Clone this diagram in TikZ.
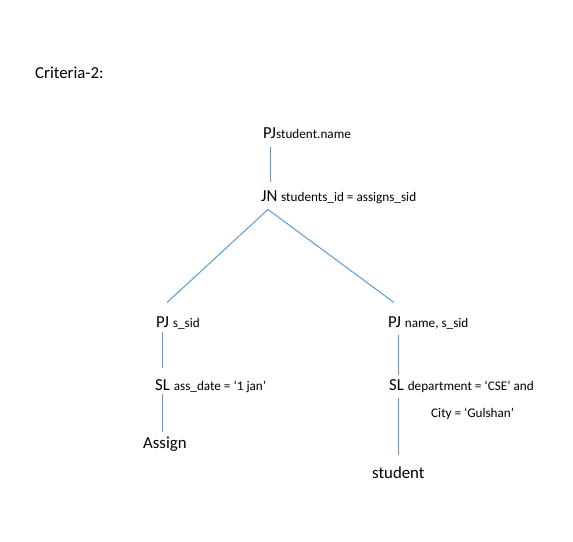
\documentclass[tikz,border=0pt]{standalone}
\usepackage{fontspec}
\setmainfont{Carlito}
\definecolor{linkblue}{RGB}{91,155,213}
\newcommand{\attr}[1]{{\fontsize{13.2}{15}\selectfont #1}}
\begin{document}
\begin{tikzpicture}[x=1pt, y=-1pt,
    op/.style = {anchor=base west, inner sep=0pt, font=\fontsize{16.8}{19}\selectfont},
    link/.style = {draw=linkblue, line width=1pt}]
    \useasboundingbox (0,0) rectangle (573,541);
    \node [op] (crit) at (35,78) {Criteria-2:};
    % root
    \node [op] (pj) at (263,138) {PJ\attr{student.name}};
    \node [op] (jn) at (261,201) {JN \attr{students\_id = assigns\_sid}};
    % left branch
    \node [op] (pjl) at (156,327) {PJ \attr{s\_sid}};
    \node [op] (sll) at (155,390) {SL \attr{ass\_date = ‘1 jan’}};
    \node [op] (assign) at (143,448) {Assign};
    % right branch
    \node [op] (pjr) at (388,327) {PJ \attr{name, s\_sid}};
    \node [op] (slr) at (389,390) {SL \attr{department = ‘CSE’ and}};
    \node [op] (city) at (431,417) {\attr{City = ‘Gulshan’}};
    \node [op] (student) at (372,478) {student};
    \draw [link] ([xshift=7pt,yshift=-9pt]pj.south west) -- ([xshift=9pt,yshift=8pt]jn.north west);
    \draw [link] ([xshift=7pt,yshift=-6pt]jn.south west) -- ([xshift=11pt,yshift=13.5pt]pjl.north west);
    \draw [link] ([xshift=7pt,yshift=-6pt]jn.south west) -- ([xshift=6pt,yshift=13.5pt]pjr.north west);
    \draw [link] ([xshift=6pt,yshift=-3pt]pjl.south west) -- ([xshift=7pt,yshift=11pt]sll.north west);
    \draw [link] ([xshift=7pt,yshift=-2pt]sll.south west) -- ([xshift=19pt,yshift=4pt]assign.north west);
    \draw [link] ([xshift=10pt,yshift=-6pt]pjr.south west) -- ([xshift=9pt,yshift=4pt]slr.north west);
    \draw [link] ([xshift=9pt,yshift=-6pt]slr.south west) -- ([xshift=26pt,yshift=11.5pt]student.north west);
\end{tikzpicture}
\end{document}
